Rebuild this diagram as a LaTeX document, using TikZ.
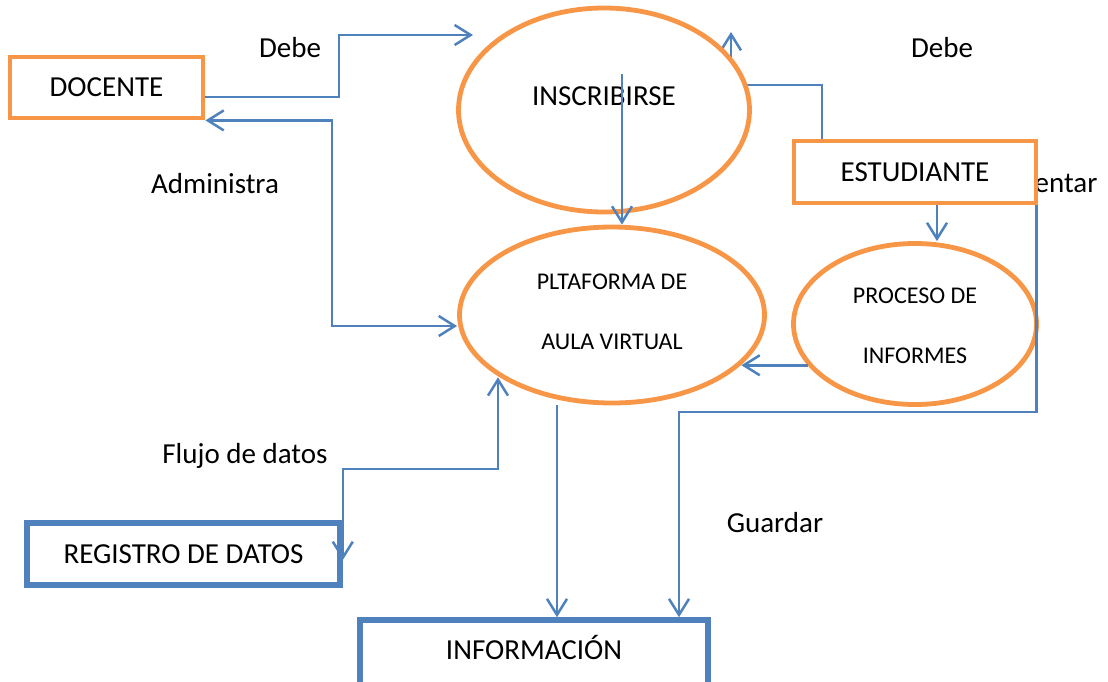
\documentclass[tikz,border=0pt]{standalone}
\usepackage{fontspec}
\setmainfont{Carlito}
\usetikzlibrary{arrows.meta,shapes.geometric,backgrounds}
\definecolor{dfdblue}{HTML}{4F81BD}
\definecolor{dfdorange}{HTML}{F79646}
\tikzset{
  orbox/.style={draw=dfdorange, line width=2.4pt, fill=white, rectangle, inner sep=0pt, font=\fontsize{14.5}{17}\selectfont},
  bluebox/.style={draw=dfdblue, line width=2.8pt, fill=white, rectangle, inner sep=0pt, font=\fontsize{14.5}{17}\selectfont},
  procell/.style={draw=dfdorange, line width=2.4pt, fill=white, ellipse, inner sep=0pt},
  bigtxt/.style={font=\fontsize{14.5}{17}\selectfont, inner sep=0pt, anchor=base},
  smalltxt/.style={font=\fontsize{12}{14}\selectfont, inner sep=0pt, anchor=base},
  conn/.style={draw=dfdblue, line width=1.25pt},
  arr/.style={conn, -{Straight Barb[length=8pt,width=10pt]}},
  arrboth/.style={conn, {Straight Barb[length=8pt,width=10pt]}-{Straight Barb[length=8pt,width=10pt]}},
}
\begin{document}
\begin{tikzpicture}[x=0.5pt,y=-0.5pt]
\useasboundingbox (0,0) rectangle (1108,681);
\clip (0,0) rectangle (1108,681);

% partly hidden label behind ESTUDIANTE
\node[bigtxt] (lblentar) at (1066,192) {entar};

% boxes
\node[orbox, minimum width=96.5pt, minimum height=30.5pt] (doc) at (106.5,87.5) {DOCENTE};
\node[orbox, minimum width=121pt, minimum height=31pt] (est) at (915,172) {ESTUDIANTE};
\node[bluebox, minimum width=156.5pt, minimum height=31pt] (reg) at (183.5,554) {REGISTRO DE DATOS};
\node[bluebox, minimum width=174pt, minimum height=40pt, text height=9pt, text depth=10pt] (info) at (534,660) {INFORMACIÓN};

% processes
\node[procell, minimum width=145.5pt, minimum height=102pt] (insc) at (604,110) {};
\node[procell, minimum width=152.5pt, minimum height=88pt] (plat) at (612,315) {};
\node[procell, minimum width=121.5pt, minimum height=80.5pt] (proc) at (915,324) {};

\node[bigtxt] (tinsc) at (604,105) {INSCRIBIRSE};
\node[smalltxt] (tplat1) at (612,289) {PLTAFORMA DE};
\node[smalltxt] (tplat2) at (612,349) {AULA VIRTUAL};
\node[smalltxt] (tproc1) at (915,303) {PROCESO DE};
\node[smalltxt] (tproc2) at (915,363) {INFORMES};

% labels
\node[bigtxt] (lbldebe1) at (290,57) {Debe};
\node[bigtxt] (lbldebe2) at (942,57) {Debe};
\node[bigtxt] (lbladm) at (215,193) {Administra};
\node[bigtxt] (lblflujo) at (245,463) {Flujo de datos};
\node[bigtxt] (lblguardar) at (775,532) {Guardar};

% free ends
\coordinate (debeend) at (473,35);
\coordinate (upend) at (731,32);
\coordinate (inscsrc) at ([xshift=9pt,yshift=18pt]insc.center);

% connector hidden partly by INSCRIBIRSE
\begin{scope}[on background layer]
\draw[arr] (est.north -| 822,0) -- (822,85) -| (upend);
\end{scope}

% connectors
\draw[arr] (doc.east |- 0,97) -- (339,97) |- (debeend);
\draw[arrboth] (doc.south east) -| (332,326) -- (plat.west |- 0,326);
\draw[arr] (inscsrc) -- (inscsrc |- plat.north);
\draw[arr] (est.south -| 937,0) -- (proc.north -| 937,0);
\draw[arr] (proc.201) -- (proc.201 -| plat.339);
\draw[arr] ([xshift=-1pt]est.south east) |- (679,412) -- (info.north -| 679,0);
\draw[arr] (plat.south -| 557,0) -- (info.north -| 557,0);
\draw[arrboth] (reg.east |- 0,560) -- ++(0,-91) -| (plat.209 -| 498,0);
\end{tikzpicture}
\end{document}
